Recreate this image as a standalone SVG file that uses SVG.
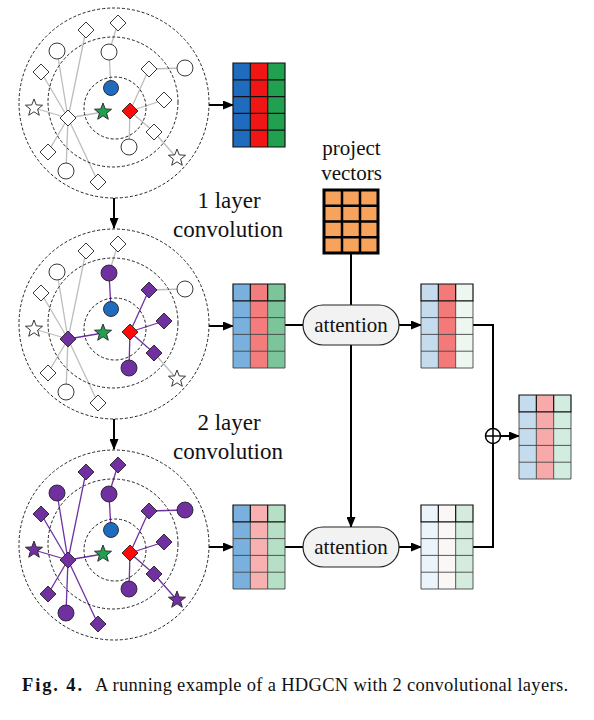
<svg xmlns="http://www.w3.org/2000/svg" xmlns:xlink="http://www.w3.org/1999/xlink" width="594" height="720" viewBox="0 0 594 720">
<style>
.ring{fill:none;stroke:#222;stroke-width:1;stroke-dasharray:3,2}
.w{fill:#fff;stroke:#222;stroke-width:0.9}
.p{fill:#7030a0;stroke:#222;stroke-width:0.9}
.bl{fill:#1f6cbf;stroke:#222;stroke-width:0.9}
.gr{fill:#21a04f;stroke:#222;stroke-width:0.9}
.rd{fill:#ff0a0a;stroke:#222;stroke-width:0.9}
.eg{stroke:#bdbdbd;stroke-width:1.3;fill:none}
.ep{stroke:#7030a0;stroke-width:1.3;fill:none}
.flow{stroke:#000;stroke-width:2;fill:none}
.arr{stroke:#000;stroke-width:2;fill:none;marker-end:url(#ah)}
.lbl{font-family:"Liberation Serif","Times New Roman",serif;fill:#111}
.grid{stroke:#444;stroke-width:0.9;fill:none}
.head{stroke:#111;stroke-width:1.2;fill:none}
.att{fill:#f2f2f2;stroke:#222;stroke-width:1.2}
</style>
<defs>
<marker id="ah" markerUnits="userSpaceOnUse" markerWidth="11" markerHeight="9" refX="10" refY="4.5" orient="auto"><path d="M0,0 L11,4.5 L0,9 Z" fill="#000"/></marker>
<circle id="cir" r="8"/>
<path id="dia" d="M0,-8 L8,0 L0,8 L-8,0 Z"/>
<path id="star" d="M0,-9 L2.24,-3.08 L8.56,-2.78 L3.62,1.18 L5.29,7.28 L0,3.81 L-5.29,7.28 L-3.62,1.18 L-8.56,-2.78 L-2.24,-3.08 Z"/>
</defs>

<g id="connectors">
  <g id="edges-g1">
    <line class="eg" x1="68" y1="118" x2="57" y2="51"/>
    <line class="eg" x1="68" y1="118" x2="86" y2="30"/>
    <line class="eg" x1="68" y1="118" x2="41" y2="72"/>
    <line class="eg" x1="68" y1="118" x2="34" y2="108"/>
    <line class="eg" x1="68" y1="118" x2="103" y2="112"/>
    <line class="eg" x1="68" y1="118" x2="48" y2="152"/>
    <line class="eg" x1="68" y1="118" x2="66" y2="171"/>
    <line class="eg" x1="68" y1="118" x2="98" y2="182"/>
    <line class="eg" x1="109" y1="52" x2="118" y2="23"/>
    <line class="eg" x1="109" y1="52" x2="111" y2="88"/>
    <line class="eg" x1="130" y1="111" x2="149" y2="69"/>
    <line class="eg" x1="149" y1="69" x2="185" y2="68"/>
    <line class="eg" x1="130" y1="111" x2="164" y2="100"/>
    <line class="eg" x1="130" y1="111" x2="154" y2="132"/>
    <line class="eg" x1="154" y1="132" x2="177" y2="158"/>
    <line class="eg" x1="130" y1="111" x2="129" y2="147"/>
  </g>
  <g id="edges-g2" transform="translate(0,221)">
    <line class="eg" x1="68" y1="118" x2="57" y2="51"/>
    <line class="eg" x1="68" y1="118" x2="86" y2="30"/>
    <line class="eg" x1="68" y1="118" x2="41" y2="72"/>
    <line class="eg" x1="68" y1="118" x2="34" y2="108"/>
    <line class="ep" x1="68" y1="118" x2="103" y2="112"/>
    <line class="eg" x1="68" y1="118" x2="48" y2="152"/>
    <line class="eg" x1="68" y1="118" x2="66" y2="171"/>
    <line class="eg" x1="68" y1="118" x2="98" y2="182"/>
    <line class="eg" x1="109" y1="52" x2="118" y2="23"/>
    <line class="ep" x1="109" y1="52" x2="111" y2="88"/>
    <line class="ep" x1="130" y1="111" x2="149" y2="69"/>
    <line class="eg" x1="149" y1="69" x2="185" y2="68"/>
    <line class="ep" x1="130" y1="111" x2="164" y2="100"/>
    <line class="ep" x1="130" y1="111" x2="154" y2="132"/>
    <line class="eg" x1="154" y1="132" x2="177" y2="158"/>
    <line class="ep" x1="130" y1="111" x2="129" y2="147"/>
  </g>
  <g id="edges-g3" transform="translate(0,442)">
    <line class="ep" x1="68" y1="118" x2="57" y2="51"/>
    <line class="ep" x1="68" y1="118" x2="86" y2="30"/>
    <line class="ep" x1="68" y1="118" x2="41" y2="72"/>
    <line class="ep" x1="68" y1="118" x2="34" y2="108"/>
    <line class="ep" x1="68" y1="118" x2="103" y2="112"/>
    <line class="ep" x1="68" y1="118" x2="48" y2="152"/>
    <line class="ep" x1="68" y1="118" x2="66" y2="171"/>
    <line class="ep" x1="68" y1="118" x2="98" y2="182"/>
    <line class="ep" x1="109" y1="52" x2="118" y2="23"/>
    <line class="ep" x1="109" y1="52" x2="111" y2="88"/>
    <line class="ep" x1="130" y1="111" x2="149" y2="69"/>
    <line class="ep" x1="149" y1="69" x2="185" y2="68"/>
    <line class="ep" x1="130" y1="111" x2="164" y2="100"/>
    <line class="ep" x1="130" y1="111" x2="154" y2="132"/>
    <line class="ep" x1="154" y1="132" x2="177" y2="158"/>
    <line class="ep" x1="130" y1="111" x2="129" y2="147"/>
  </g>
  <g id="flow">
    <line class="arr" x1="209" y1="105" x2="233" y2="105"/>
    <line class="arr" x1="209" y1="326" x2="233" y2="326"/>
    <line class="arr" x1="209" y1="547" x2="233" y2="547"/>
    <line class="arr" x1="114" y1="198" x2="114" y2="228"/>
    <line class="arr" x1="114" y1="419" x2="114" y2="449"/>
    <line class="flow" x1="285" y1="325" x2="303" y2="325"/>
    <line class="arr" x1="399" y1="325" x2="421" y2="325"/>
    <line class="flow" x1="285" y1="547" x2="303" y2="547"/>
    <line class="arr" x1="399" y1="547" x2="421" y2="547"/>
    <line class="flow" x1="351" y1="253" x2="351" y2="305"/>
    <line class="arr" x1="351" y1="345" x2="351" y2="527"/>
    <polyline class="flow" points="473,325 493,325 493,428.5"/>
    <polyline class="flow" points="473,547 493,547 493,443.5"/>
    <line class="arr" x1="500.5" y1="436" x2="519" y2="436"/>
  </g>
</g>

<g id="graph1">
  <circle class="ring" cx="114" cy="103" r="95"/>
  <circle class="ring" cx="113" cy="102" r="65"/>
  <circle class="ring" cx="115" cy="108" r="31"/>
  <use href="#dia" class="w" x="68" y="118"/>
  <use href="#cir" class="w" x="57" y="51"/>
  <use href="#cir" class="w" x="109" y="52"/>
  <use href="#cir" class="w" x="185" y="68"/>
  <use href="#cir" class="w" x="129" y="147"/>
  <use href="#cir" class="w" x="66" y="171"/>
  <use href="#dia" class="w" x="118" y="23"/>
  <use href="#dia" class="w" x="86" y="30"/>
  <use href="#dia" class="w" x="41" y="72"/>
  <use href="#dia" class="w" x="149" y="69"/>
  <use href="#dia" class="w" x="164" y="100"/>
  <use href="#dia" class="w" x="154" y="132"/>
  <use href="#dia" class="w" x="48" y="152"/>
  <use href="#dia" class="w" x="98" y="182"/>
  <use href="#star" class="w" x="34" y="108"/>
  <use href="#star" class="w" x="177" y="158"/>
  <circle class="bl" cx="111" cy="88" r="7.5"/>
  <use href="#star" class="gr" x="103" y="112"/>
  <use href="#dia" class="rd" x="130" y="111"/>
</g>

<g id="graph2" transform="translate(0,221)">
  <circle class="ring" cx="114" cy="103" r="95"/>
  <circle class="ring" cx="113" cy="102" r="65"/>
  <circle class="ring" cx="115" cy="108" r="31"/>
  <use href="#dia" class="p" x="68" y="118"/>
  <use href="#cir" class="w" x="57" y="51"/>
  <use href="#cir" class="p" x="109" y="52"/>
  <use href="#cir" class="w" x="185" y="68"/>
  <use href="#cir" class="p" x="129" y="147"/>
  <use href="#cir" class="w" x="66" y="171"/>
  <use href="#dia" class="w" x="118" y="23"/>
  <use href="#dia" class="w" x="86" y="30"/>
  <use href="#dia" class="w" x="41" y="72"/>
  <use href="#dia" class="p" x="149" y="69"/>
  <use href="#dia" class="p" x="164" y="100"/>
  <use href="#dia" class="p" x="154" y="132"/>
  <use href="#dia" class="w" x="48" y="152"/>
  <use href="#dia" class="w" x="98" y="182"/>
  <use href="#star" class="w" x="34" y="108"/>
  <use href="#star" class="w" x="177" y="158"/>
  <circle class="bl" cx="111" cy="88" r="7.5"/>
  <use href="#star" class="gr" x="103" y="112"/>
  <use href="#dia" class="rd" x="130" y="111"/>
</g>

<g id="graph3" transform="translate(0,442)">
  <circle class="ring" cx="114" cy="103" r="95"/>
  <circle class="ring" cx="113" cy="102" r="65"/>
  <circle class="ring" cx="115" cy="108" r="31"/>
  <use href="#dia" class="p" x="68" y="118"/>
  <use href="#cir" class="p" x="57" y="51"/>
  <use href="#cir" class="p" x="109" y="52"/>
  <use href="#cir" class="p" x="185" y="68"/>
  <use href="#cir" class="p" x="129" y="147"/>
  <use href="#cir" class="p" x="66" y="171"/>
  <use href="#dia" class="p" x="118" y="23"/>
  <use href="#dia" class="p" x="86" y="30"/>
  <use href="#dia" class="p" x="41" y="72"/>
  <use href="#dia" class="p" x="149" y="69"/>
  <use href="#dia" class="p" x="164" y="100"/>
  <use href="#dia" class="p" x="154" y="132"/>
  <use href="#dia" class="p" x="48" y="152"/>
  <use href="#dia" class="p" x="98" y="182"/>
  <use href="#star" class="p" x="34" y="108"/>
  <use href="#star" class="p" x="177" y="158"/>
  <circle class="bl" cx="111" cy="88" r="7.5"/>
  <use href="#star" class="gr" x="103" y="112"/>
  <use href="#dia" class="rd" x="130" y="111"/>
</g>

<g id="matrix-top" transform="translate(233,63)">
  <rect x="0" y="0" width="17.33" height="84" fill="#1f6cbf"/>
  <rect x="17.33" y="0" width="17.34" height="84" fill="#f01616"/>
  <rect x="34.67" y="0" width="17.33" height="84" fill="#21a04f"/>
  <path class="head" d="M0,0H52V84H0Z M17.33,0V84 M34.67,0V84 M0,16.8H52 M0,33.6H52 M0,50.4H52 M0,67.2H52"/>
</g>

<g id="matrix-mid" transform="translate(233,284)">
  <rect x="0" y="0" width="17.33" height="84" fill="#7ab0de"/>
  <rect x="17.33" y="0" width="17.34" height="84" fill="#f47c7c"/>
  <rect x="34.67" y="0" width="17.33" height="84" fill="#7cc59a"/>
  <path class="grid" d="M0,16.8V84H52V16.8 M17.33,16.8V84 M34.67,16.8V84 M0,33.6H52 M0,50.4H52 M0,67.2H52"/>
  <path class="head" d="M0,0H52V16.8H0Z M17.33,0V16.8 M34.67,0V16.8"/>
</g>

<g id="matrix-bot" transform="translate(233,505)">
  <rect x="0" y="0" width="17.33" height="84" fill="#7ab0de"/>
  <rect x="17.33" y="0" width="17.34" height="84" fill="#f8b0b0"/>
  <rect x="34.67" y="0" width="17.33" height="84" fill="#b5e0c6"/>
  <path class="grid" d="M0,16.8V84H52V16.8 M17.33,16.8V84 M34.67,16.8V84 M0,33.6H52 M0,50.4H52 M0,67.2H52"/>
  <path class="head" d="M0,0H52V16.8H0Z M17.33,0V16.8 M34.67,0V16.8"/>
</g>

<g id="matrix-att1" transform="translate(421,284)">
  <rect x="0" y="0" width="17.33" height="84" fill="#c5dbee"/>
  <rect x="17.33" y="0" width="17.34" height="84" fill="#f47a7a"/>
  <rect x="34.67" y="0" width="17.33" height="84" fill="#eef6f0"/>
  <path class="grid" d="M0,16.8V84H52V16.8 M17.33,16.8V84 M34.67,16.8V84 M0,33.6H52 M0,50.4H52 M0,67.2H52"/>
  <path class="head" d="M0,0H52V16.8H0Z M17.33,0V16.8 M34.67,0V16.8"/>
</g>

<g id="matrix-att2" transform="translate(421,505)">
  <rect x="0" y="0" width="17.33" height="84" fill="#ebf3fb"/>
  <rect x="17.33" y="0" width="17.34" height="84" fill="#fcf7f7"/>
  <rect x="34.67" y="0" width="17.33" height="84" fill="#d4ebdd"/>
  <path class="grid" d="M0,16.8V84H52V16.8 M17.33,16.8V84 M34.67,16.8V84 M0,33.6H52 M0,50.4H52 M0,67.2H52"/>
  <path class="head" d="M0,0H52V16.8H0Z M17.33,0V16.8 M34.67,0V16.8"/>
</g>

<g id="matrix-out" transform="translate(519,395)">
  <rect x="0" y="0" width="17.33" height="84" fill="#c5dbee"/>
  <rect x="17.33" y="0" width="17.34" height="84" fill="#f8aaaa"/>
  <rect x="34.67" y="0" width="17.33" height="84" fill="#d2ece0"/>
  <path class="grid" d="M0,16.8V84H52V16.8 M17.33,16.8V84 M34.67,16.8V84 M0,33.6H52 M0,50.4H52 M0,67.2H52"/>
  <path class="head" d="M0,0H52V16.8H0Z M17.33,0V16.8 M34.67,0V16.8"/>
</g>

<g id="project-vectors">
  <text class="lbl" x="351.5" y="155" font-size="21" text-anchor="middle">project</text>
  <text class="lbl" x="351.5" y="180" font-size="21" text-anchor="middle">vectors</text>
  <rect x="324" y="190" width="54" height="63" fill="#f7a35c" stroke="#000" stroke-width="3"/>
  <path d="M342,190V253 M360,190V253 M324,205.75H378 M324,221.5H378 M324,237.25H378" stroke="#000" stroke-width="2.5" fill="none"/>
</g>

<g id="attention1">
  <rect class="att" x="303" y="305" width="96" height="40" rx="20" ry="20"/>
  <text class="lbl" x="351" y="332" font-size="21" text-anchor="middle">attention</text>
</g>
<g id="attention2">
  <rect class="att" x="303" y="527" width="96" height="40" rx="20" ry="20"/>
  <text class="lbl" x="351" y="554" font-size="21" text-anchor="middle">attention</text>
</g>

<g id="sum">
  <circle cx="493" cy="436" r="7.5" fill="#fff" stroke="#000" stroke-width="1.5"/>
  <path d="M485.5,436H500.5 M493,428.5V443.5" stroke="#000" stroke-width="1.5"/>
</g>

<g id="labels">
  <text class="lbl" x="229" y="208" font-size="23" text-anchor="middle">1 layer</text>
  <text class="lbl" x="228" y="237" font-size="23" text-anchor="middle">convolution</text>
  <text class="lbl" x="229" y="430" font-size="23" text-anchor="middle">2 layer</text>
  <text class="lbl" x="228" y="459" font-size="23" text-anchor="middle">convolution</text>
</g>

<g id="caption">
  <text class="lbl" x="22" y="691" font-size="18.5" font-weight="bold" textLength="60" lengthAdjust="spacing">Fig. 4.</text>
  <text class="lbl" x="95" y="691" font-size="18.5" textLength="473" lengthAdjust="spacing">A running example of a HDGCN with 2 convolutional layers.</text>
</g>
</svg>
